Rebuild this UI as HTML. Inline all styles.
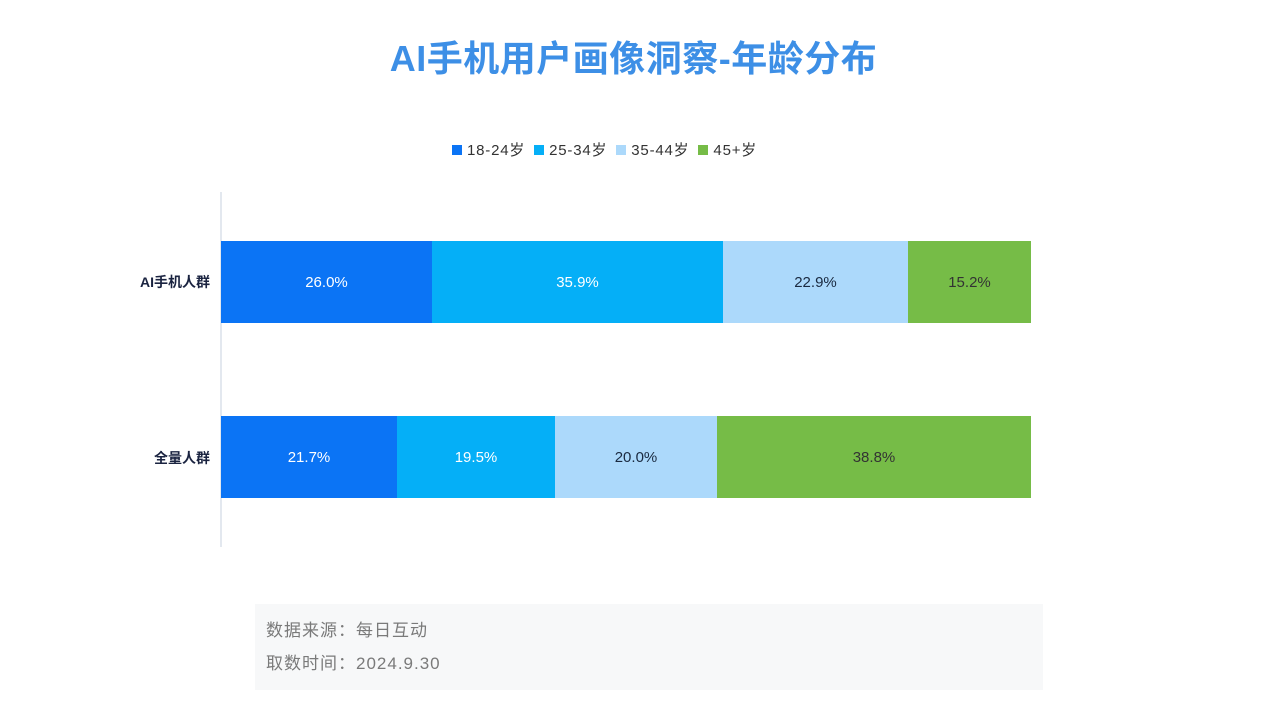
<!DOCTYPE html>
<html><head><meta charset="utf-8"><style>
body{margin:0;width:1267px;height:713px;background:#fff;position:relative;overflow:hidden;font-family:"Liberation Sans","Noto Sans CJK SC",sans-serif}
.a{position:absolute}
.t{left:0;width:1267px;top:30px;text-align:center;font-size:36px;font-weight:bold;color:#3d8fe6;letter-spacing:0.5px}
.lg{top:139px;left:452px;font-size:15px;color:#333;white-space:nowrap;letter-spacing:0.8px}
.lg span{display:inline-block;width:10px;height:10px;margin:0 5px 0 4px;vertical-align:0px}
.b{height:82px;display:flex;align-items:center;justify-content:center;font-size:15px}
.lab{font-size:14px;color:#1a2340;font-weight:bold;text-align:right;width:110px;left:100px}
.f{left:266px;font-size:17px;color:#7a7a7a;letter-spacing:1px}
</style></head><body>
<div class="a t">AI手机用户画像洞察-年龄分布</div>
<div class="a lg"><span style="background:#0b74f5;margin-left:0"></span>18-24岁 <span style="background:#05aff7"></span>25-34岁 <span style="background:#acd9fb"></span>35-44岁 <span style="background:#76bc47"></span>45+岁</div>
<div class="a" style="left:220px;top:192px;width:2px;height:355px;background:#e3e8ef"></div>
<div class="a lab" style="top:272px">AI手机人群</div>
<div class="a lab" style="top:448px">全量人群</div>
<div class="a b" style="left:221px;top:241px;width:211px;background:#0b74f5;color:#fff">26.0%</div>
<div class="a b" style="left:432px;top:241px;width:291px;background:#05aff7;color:#fff">35.9%</div>
<div class="a b" style="left:723px;top:241px;width:185px;background:#acd9fb;color:#1a2a40">22.9%</div>
<div class="a b" style="left:908px;top:241px;width:123px;background:#76bc47;color:#333">15.2%</div>
<div class="a b" style="left:221px;top:416px;width:176px;background:#0b74f5;color:#fff">21.7%</div>
<div class="a b" style="left:397px;top:416px;width:158px;background:#05aff7;color:#fff">19.5%</div>
<div class="a b" style="left:555px;top:416px;width:162px;background:#acd9fb;color:#1a2a40">20.0%</div>
<div class="a b" style="left:717px;top:416px;width:314px;background:#76bc47;color:#333">38.8%</div>
<div class="a" style="left:255px;top:604px;width:788px;height:86px;background:#f7f8f9"></div>
<div class="a f" style="top:616px">数据来源：每日互动</div>
<div class="a f" style="top:649px">取数时间：2024.9.30</div>
</body></html>
